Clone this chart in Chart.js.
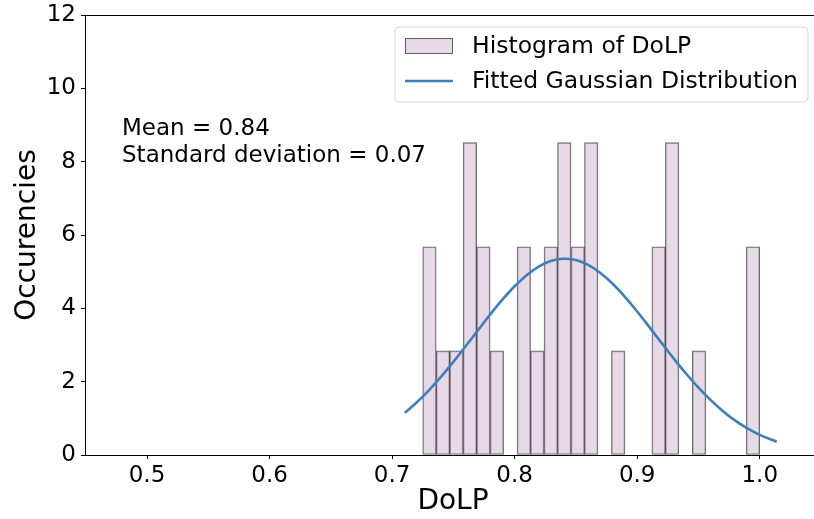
<!DOCTYPE html>
<html>
<head>
<meta charset="utf-8">
<script src="https://cdn.jsdelivr.net/npm/chart.js@4.4.1/dist/chart.umd.min.js"></script>
<style>
  html, body { margin: 0; padding: 0; background: #fff; overflow: hidden; }
  #wrap { width: 814px; height: 519px; overflow: hidden; position: relative; }
  canvas { display: block; }
</style>
</head>
<body>
<div id="wrap"><canvas id="chart" width="822" height="519"></canvas></div>
<script>
// Histogram bins of DoLP (bin centres, width 0.011) and their density heights
const binCenters = [0.7305, 0.7415, 0.7525, 0.7635, 0.7745, 0.7855, 0.7965, 0.8075, 0.8185,
  0.8295, 0.8405, 0.8515, 0.8625, 0.8735, 0.8845, 0.8955, 0.9065, 0.9175, 0.9285, 0.9395,
  0.9505, 0.9615, 0.9725, 0.9835, 0.9945];
const binDensity = [5.68, 2.84, 2.84, 8.52, 5.68, 2.84, null, 5.68, 2.84,
  5.68, 8.52, 5.68, 8.52, null, 2.84, null, null, 5.68, 8.52, null,
  2.84, null, null, null, 5.68];

// Fitted Gaussian curve samples
const curveX = [0.7104, 0.72, 0.73, 0.74, 0.75, 0.76, 0.77, 0.78, 0.79, 0.80, 0.81, 0.82, 0.83,
  0.84, 0.85, 0.86, 0.87, 0.88, 0.89, 0.90, 0.91, 0.92, 0.93, 0.94, 0.95, 0.96, 0.97, 0.98,
  0.99, 1.00, 1.0139];
const curveY = [1.152, 1.432, 1.765, 2.136, 2.540, 2.965, 3.400, 3.830, 4.236, 4.603, 4.911, 5.147, 5.297,
  5.354, 5.316, 5.184, 4.964, 4.670, 4.313, 3.913, 3.487, 3.052, 2.623, 2.215, 1.836, 1.495, 1.196, 0.939,
  0.725, 0.549, 0.363];

// Axis ticks
const xTicks = [0.5, 0.6, 0.7, 0.8, 0.9, 1.0];
const yTicks = [0, 2, 4, 6, 8, 10, 12];

// Fit summary
const meanValue = 0.84;
const stdValue = 0.07;

const FONT = 'DejaVu Sans';

const histData = binCenters.map((x, i) => ({ x: x, y: binDensity[i] }));
const curveData = curveX.map((x, i) => ({ x: x, y: curveY[i] }));

// Axes frame (top and right spines)
const framePlugin = {
  id: 'frame',
  afterDatasetsDraw(chart) {
    const { ctx, chartArea: a } = chart;
    ctx.save();
    ctx.strokeStyle = '#000';
    ctx.lineWidth = 1;
    ctx.beginPath();
    ctx.moveTo(a.left, Math.round(a.top) + 0.5);
    ctx.lineTo(a.right, Math.round(a.top) + 0.5);
    ctx.lineTo(a.right, a.bottom);
    ctx.stroke();
    ctx.restore();
  }
};

// Summary text
const statsPlugin = {
  id: 'stats',
  afterDatasetsDraw(chart) {
    const { ctx, scales } = chart;
    const x = scales.x.getPixelForValue(0.4796);
    const y1 = scales.y.getPixelForValue(8.72);
    ctx.save();
    ctx.fillStyle = '#000';
    ctx.font = '23px "' + FONT + '"';
    ctx.textAlign = 'left';
    ctx.textBaseline = 'alphabetic';
    ctx.fillText('Mean = ' + meanValue.toFixed(2), x, y1);
    ctx.fillText('Standard deviation = ' + stdValue.toFixed(2), x, y1 + 27);
    ctx.restore();
  }
};

// Legend box in the upper right of the plot area
const boxLegendPlugin = {
  id: 'boxLegend',
  afterDraw(chart) {
    const { ctx, chartArea: a } = chart;
    const ds = chart.data.datasets;
    const fs = 23.5;
    ctx.save();
    ctx.font = fs + 'px "' + FONT + '"';
    const textW = Math.max(...ds.map(d => ctx.measureText(d.label).width));
    const pad = 10, handle = 48, gap = 19, rowH = 35;
    const right = 808;
    const top = a.top + 12;
    const w = pad + handle + gap + textW + pad;
    const h = 75;
    const left = right - w;
    // frame
    ctx.beginPath();
    const r = 4;
    ctx.moveTo(left + r, top);
    ctx.lineTo(left + w - r, top);
    ctx.arcTo(left + w, top, left + w, top + r, r);
    ctx.lineTo(left + w, top + h - r);
    ctx.arcTo(left + w, top + h, left + w - r, top + h, r);
    ctx.lineTo(left + r, top + h);
    ctx.arcTo(left, top + h, left, top + h - r, r);
    ctx.lineTo(left, top + r);
    ctx.arcTo(left, top, left + r, top, r);
    ctx.closePath();
    ctx.fillStyle = 'rgba(255,255,255,0.8)';
    ctx.fill();
    ctx.strokeStyle = '#d6d6d6';
    ctx.lineWidth = 1;
    ctx.stroke();

    ds.forEach((d, i) => {
      const cy = top + 19 + i * rowH;
      const hx = left + pad;
      if (d.type === 'bar') {
        ctx.fillStyle = d.backgroundColor;
        ctx.fillRect(hx, cy - 8, handle, 16);
        ctx.strokeStyle = d.borderColor;
        ctx.lineWidth = 1;
        ctx.strokeRect(hx + 0.5, cy - 7.5, handle - 1, 15);
      } else {
        ctx.strokeStyle = d.borderColor;
        ctx.lineWidth = d.borderWidth;
        ctx.beginPath();
        ctx.moveTo(hx, cy);
        ctx.lineTo(hx + handle, cy);
        ctx.stroke();
      }
      ctx.fillStyle = '#000';
      ctx.textAlign = 'left';
      ctx.textBaseline = 'middle';
      ctx.fillText(d.label, hx + handle + gap, cy + 1);
    });
    ctx.restore();
  }
};

new Chart(document.getElementById('chart'), {
  data: {
    datasets: [
      {
        type: 'bar',
        label: 'Histogram of DoLP',
        data: histData,
        backgroundColor: 'rgba(216,191,216,0.6)',
        borderColor: 'rgba(0,0,0,0.58)',
        borderWidth: 1,
        borderSkipped: false,
        barPercentage: 1.0,
        categoryPercentage: 1.0,
        order: 2
      },
      {
        type: 'line',
        label: 'Fitted Gaussian Distribution',
        data: curveData,
        borderColor: '#3f7fb8',
        borderWidth: 2.6,
        pointRadius: 0,
        fill: false,
        cubicInterpolationMode: 'monotone',
        order: 1
      }
    ]
  },
  options: {
    responsive: false,
    animation: false,
    devicePixelRatio: 1,
    layout: { padding: { left: 0, top: 15, right: 1, bottom: 0 } },
    plugins: {
      legend: { display: false },
      tooltip: { enabled: false }
    },
    scales: {
      x: {
        type: 'linear',
        min: 0.4494,
        max: 1.05,
        offset: false,
        afterFit(scale) {
          scale.height = 64;
          scale.paddingLeft = 0;
          scale.paddingRight = 0;
        },
        afterBuildTicks(scale) { scale.ticks = xTicks.map(v => ({ value: v })); },
        ticks: {
          color: '#000',
          font: { family: FONT, size: 23 },
          padding: 3,
          maxRotation: 0,
          autoSkip: false,
          callback: v => v.toFixed(1)
        },
        grid: { offset: false, drawOnChartArea: false, drawTicks: true, tickLength: 4, color: '#000' },
        border: { display: true, color: '#000', width: 1 },
        title: {
          display: true,
          text: 'DoLP',
          color: '#000',
          font: { family: FONT, size: 28 },
          padding: { top: 0, bottom: 0 }
        }
      },
      y: {
        type: 'linear',
        min: 0,
        max: 12,
        afterFit(scale) {
          scale.width = 85;
          scale.paddingTop = 0;
          scale.paddingBottom = 0;
        },
        afterBuildTicks(scale) { scale.ticks = yTicks.map(v => ({ value: v })); },
        ticks: {
          color: '#000',
          font: { family: FONT, size: 23 },
          padding: 5,
          autoSkip: false,
          callback: v => String(v)
        },
        grid: { offset: false, drawOnChartArea: false, drawTicks: true, tickLength: 4, color: '#000' },
        border: { display: true, color: '#000', width: 1 },
        title: {
          display: true,
          text: 'Occurencies',
          color: '#000',
          font: { family: FONT, size: 28 },
          padding: { top: 11, bottom: 0 }
        }
      }
    }
  },
  plugins: [framePlugin, statsPlugin, boxLegendPlugin]
});
</script>
</body>
</html>
